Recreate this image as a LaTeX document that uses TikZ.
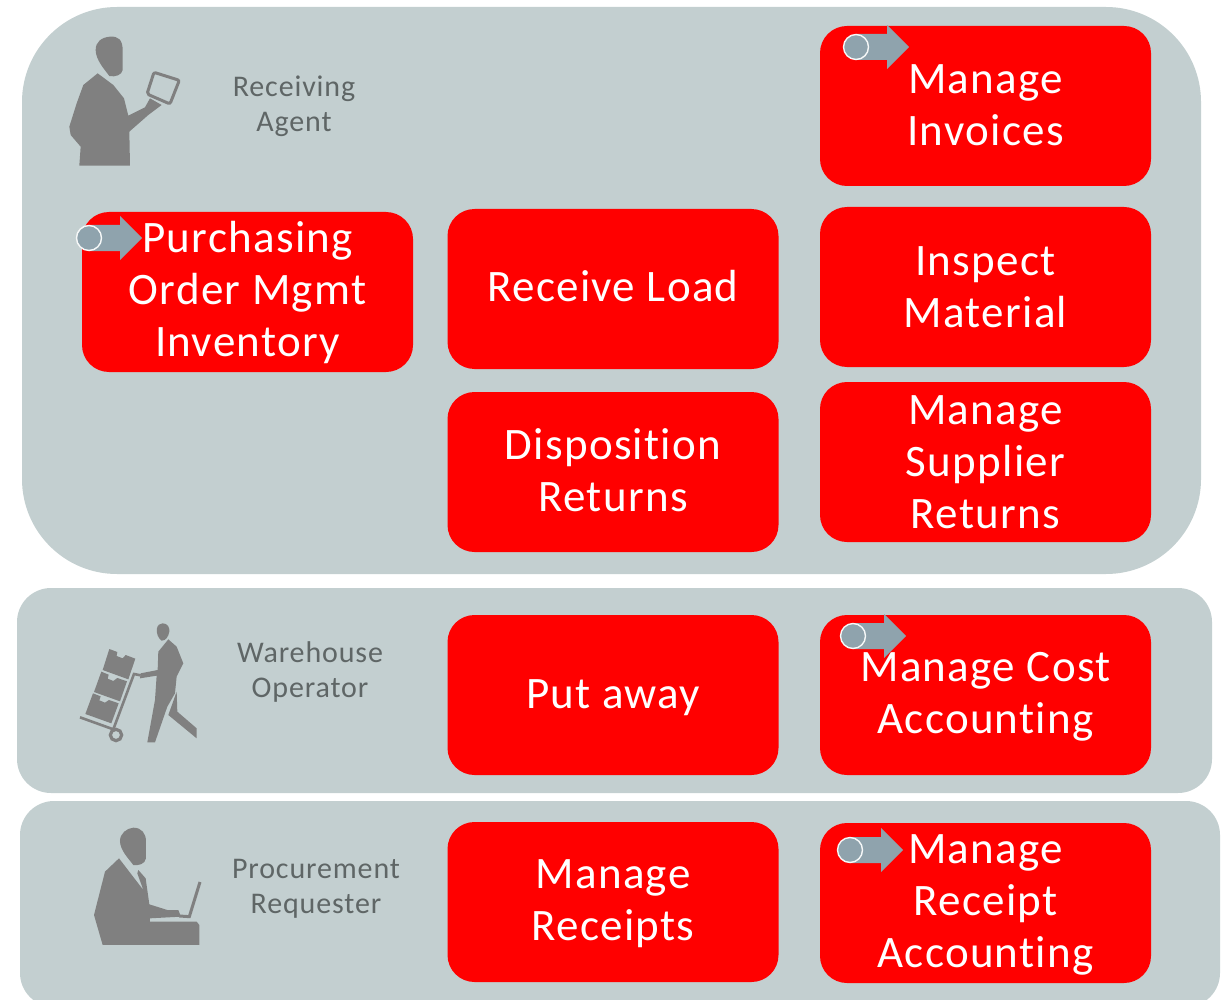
\documentclass[tikz,border=0pt]{standalone}
\usepackage{fontspec}
\setmainfont[LetterSpace=2.9,Ligatures=NoCommon]{Carlito}
\definecolor{panelc}{HTML}{C3CFD0}
\definecolor{redc}{HTML}{FF0000}
\definecolor{figc}{HTML}{808080}
\definecolor{labelc}{HTML}{5F6666}
\definecolor{markc}{HTML}{8FA3AD}
\tikzset{
  panel/.style={fill=panelc,inner sep=0pt,outer sep=0pt},
  redbox/.style={fill=redc,rounded corners=27pt,minimum width=331pt,minimum height=160pt,inner sep=0pt,outer sep=0pt},
  boxtext/.style={text=white,align=center,inner sep=0pt,font=\fontsize{45}{52}\selectfont},
  rolelabel/.style={text=labelc,align=center,inner sep=0pt,font=\fontsize{30}{34.5}\selectfont},
  figure/.style={fill=figc,draw=none},
  figline/.style={draw=figc,fill=none},
  zoomed/.style={x=0.3333pt,y=-0.3333pt}
}
\newcommand{\marker}[2]{%
  \fill[markc] (#1,#2-13) -- (#1+31,#2-13) -- (#1+31,#2-22) -- (#1+53,#2) -- (#1+31,#2+22) -- (#1+31,#2+13) -- (#1,#2+13) -- cycle;
  \fill[markc,draw=white!85!panelc,line width=1.4pt] (#1,#2) circle[radius=12.5];
}
\begin{document}
\begin{tikzpicture}[x=1pt,y=-1pt]
\useasboundingbox (0,0) rectangle (1222,1000);
\clip (0,0) rectangle (1222,1000);
% panels
\node[panel,rounded corners=95pt,minimum width=1179pt,minimum height=567pt] (p1) at (611.5,290.5) {};
\node[panel,rounded corners=34pt,minimum width=1195pt,minimum height=205pt] (p2) at (614.5,690.5) {};
\node[panel,rounded corners=34pt,minimum width=1200pt,minimum height=206pt] (p3) at (620,904) {};
% red boxes
\node[redbox] (inv) at (985.5,106) {};
\node[redbox] (insp) at (985.5,287) {};
\node[redbox] (sup) at (985.5,462) {};
\node[redbox] (recv) at (613,289) {};
\node[redbox] (disp) at (613,472) {};
\node[redbox] (purch) at (247.5,292) {};
\node[redbox] (put) at (613,695) {};
\node[redbox] (cost) at (985.5,695) {};
\node[redbox] (mrec) at (613,902) {};
\node[redbox] (racc) at (985.5,903) {};
% box texts
\node[boxtext] (invt) at ([yshift=1pt]inv.center) {Manage\\Invoices};
\node[boxtext] (inspt) at (insp.center) {Inspect\\Material};
\node[boxtext] (supt) at (sup.center) {Manage\\Supplier\\Returns};
\node[boxtext] (recvt) at ([yshift=3pt]recv.center) {Receive Load};
\node[boxtext] (dispt) at ([yshift=2pt]disp.center) {Disposition\\Returns};
\node[boxtext] (purcht) at ([yshift=-1pt]purch.center) {Purchasing\\Order Mgmt\\Inventory};
\node[boxtext] (putt) at ([yshift=-3pt]put.center) {Put away};
\node[boxtext] (costt) at ([yshift=-2pt]cost.center) {Manage Cost\\Accounting};
\node[boxtext] (mrect) at ([yshift=-2pt]mrec.center) {Manage\\Receipts};
\node[boxtext] (racct) at ([yshift=-2pt]racc.center) {Manage\\Receipt\\Accounting};
% role labels
\node[rolelabel] (l1) at (294,106.5) {Receiving\\Agent};
\node[rolelabel] (l2) at (310,672) {Warehouse\\Operator};
\node[rolelabel] (l3) at (316,889) {Procurement\\Requester};
% markers
\marker{856}{47}
\marker{89}{238}
\marker{853}{636}
\marker{850}{850}
% receiving agent
\begin{scope}[shift={(50,20)},zoomed]
\fill[figure] (180,50) .. controls (205,48) and (218,60) .. (218,90) -- (218,150)
  .. controls (216,165) and (195,172) .. (178,168) .. controls (165,150) and (137,120) .. (137,90)
  .. controls (137,65) and (155,52) .. (180,50) -- cycle;
\fill[figure] (143,160) -- (100,195) -- (80,250) -- (58,320) -- (62,345) -- (92,380) -- (88,437) -- (240,437)
  -- (238,335) -- (295,285) -- (335,255) -- (300,235) -- (285,262) -- (235,287) -- (222,235) -- (190,195) -- cycle;
\draw[figline,line width=3pt,rounded corners=2pt] (312,157) -- (388,181) -- (360,252) -- (291,222) -- cycle;
\end{scope}
% warehouse operator
\begin{scope}[shift={(60,610)},zoomed]
\fill[figure] (308,40) .. controls (322,40) and (330,52) .. (328,65) .. controls (325,80) and (318,92) .. (305,92)
  .. controls (295,85) and (288,70) .. (291,55) .. controls (293,45) and (300,40) .. (308,40) -- cycle;
\fill[figure] (325,88) -- (295,125) -- (293,180) -- (242,190) -- (240,205) -- (290,197) -- (285,270) -- (262,397)
  -- (285,397) -- (322,290) -- (345,250) -- (350,200) -- (370,160) -- (350,110) -- cycle;
\fill[figure] (350,245) -- (325,315) -- (410,385) -- (410,355) -- (352,305) -- cycle;
\fill[figure] (148,117) -- (172,126) -- (170,138) -- (188,145) -- (197,135) -- (226,146) -- (205,208) -- (128,180) -- cycle;
\fill[figure] (124,185) -- (146,194) -- (143,206) -- (160,213) -- (172,204) -- (201,214) -- (180,274) -- (102,246) -- cycle;
\fill[figure] (99,250) -- (122,259) -- (118,271) -- (135,278) -- (147,270) -- (176,280) -- (154,340) -- (76,312) -- cycle;
\draw[figline,line width=2.6pt] (60,322) -- (160,358) -- (222,192) -- (242,196);
\draw[figline,line width=3.2pt] (168,375) circle[radius=17];
\end{scope}
% procurement requester
\begin{scope}[shift={(80,815)},zoomed]
\fill[figure] (160,38) .. controls (185,38) and (198,55) .. (198,80) -- (198,130)
  .. controls (195,148) and (175,152) .. (160,150) .. controls (145,130) and (120,105) .. (120,78)
  .. controls (120,55) and (140,40) .. (160,38) -- cycle;
\fill[figure] (117,130) -- (75,170) -- (42,300) -- (68,390) -- (358,390) -- (358,330) -- (350,320) -- (210,320) -- (210,310)
  -- (303,305) -- (295,285) -- (262,285) -- (208,268) -- (197,190) -- (175,165) -- (172,175) -- (190,225) -- cycle;
\draw[figline,line width=3pt] (360,201) -- (328,305) -- (298,303);
\end{scope}
\end{tikzpicture}
\end{document}
